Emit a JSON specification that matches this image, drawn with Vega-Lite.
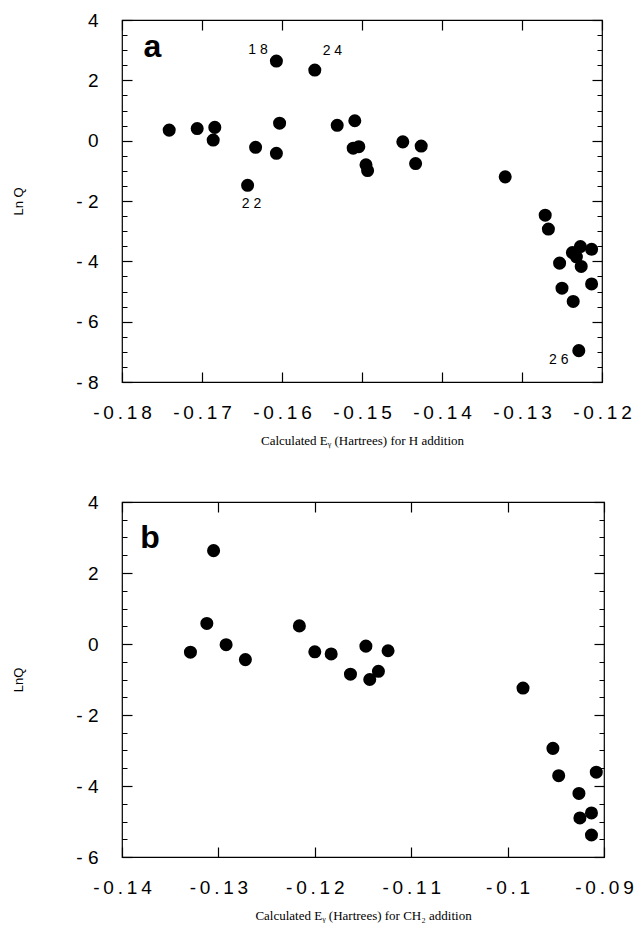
{
  "$schema": "https://vega.github.io/schema/vega-lite/v6.json",
  "background": "white",
  "padding": {"left": 12, "top": 10, "right": 0, "bottom": 0},
  "spacing": 44,
  "config": {
    "view": {"stroke": "black", "strokeWidth": 1.2},
    "axis": {"domain": false, "grid": false, "zindex": 1, "ticks": true, "offset": -10, "tickSize": 10, "labelFont": "Liberation Sans", "labelFontSize": 19, "labelColor": "black", "tickColor": "black", "tickWidth": 1.2, "titleColor": "black", "labelOverlap": false, "labelFlush": false, "labelBound": false}
  },
  "datasets": {
    "pa": [
      {"E": -0.1741, "lnQ": 0.35}, {"E": -0.1706, "lnQ": 0.40}, {"E": -0.1684, "lnQ": 0.44}, {"E": -0.1686, "lnQ": 0.02},
      {"E": -0.1633, "lnQ": -0.22}, {"E": -0.1607, "lnQ": -0.42}, {"E": -0.1603, "lnQ": 0.58}, {"E": -0.1607, "lnQ": 2.64},
      {"E": -0.1643, "lnQ": -1.48}, {"E": -0.1559, "lnQ": 2.34}, {"E": -0.1531, "lnQ": 0.51}, {"E": -0.1509, "lnQ": 0.66},
      {"E": -0.1511, "lnQ": -0.25}, {"E": -0.1504, "lnQ": -0.20}, {"E": -0.1495, "lnQ": -0.80}, {"E": -0.1493, "lnQ": -0.99},
      {"E": -0.1449, "lnQ": -0.04}, {"E": -0.1426, "lnQ": -0.18}, {"E": -0.1433, "lnQ": -0.76}, {"E": -0.1321, "lnQ": -1.20},
      {"E": -0.1271, "lnQ": -2.47}, {"E": -0.1267, "lnQ": -2.93}, {"E": -0.1227, "lnQ": -3.51}, {"E": -0.1237, "lnQ": -3.71},
      {"E": -0.1213, "lnQ": -3.60}, {"E": -0.1232, "lnQ": -3.85}, {"E": -0.1226, "lnQ": -4.17}, {"E": -0.1253, "lnQ": -4.06},
      {"E": -0.1250, "lnQ": -4.89}, {"E": -0.1213, "lnQ": -4.75}, {"E": -0.1236, "lnQ": -5.33}, {"E": -0.1229, "lnQ": -6.96}
    ],
    "la": [
      {"E": -0.1630, "lnQ": 3.0, "label": "1 8"},
      {"E": -0.1537, "lnQ": 2.97, "label": "2 4"},
      {"E": -0.1638, "lnQ": -2.10, "label": "2 2"},
      {"E": -0.1254, "lnQ": -7.28, "label": "2 6"}
    ],
    "ta": [{"E": -0.1773, "lnQ": 2.77, "label": "a"}],
    "pb": [
      {"E": -0.1329, "lnQ": -0.23}, {"E": -0.1312, "lnQ": 0.58}, {"E": -0.1305, "lnQ": 2.63}, {"E": -0.1292, "lnQ": -0.02},
      {"E": -0.1272, "lnQ": -0.44}, {"E": -0.1216, "lnQ": 0.51}, {"E": -0.1200, "lnQ": -0.22}, {"E": -0.1183, "lnQ": -0.28},
      {"E": -0.1147, "lnQ": -0.06}, {"E": -0.1124, "lnQ": -0.19}, {"E": -0.1163, "lnQ": -0.85}, {"E": -0.1134, "lnQ": -0.77},
      {"E": -0.1143, "lnQ": -1.00}, {"E": -0.0984, "lnQ": -1.24}, {"E": -0.0953, "lnQ": -2.94}, {"E": -0.0947, "lnQ": -3.71},
      {"E": -0.0908, "lnQ": -3.61}, {"E": -0.0926, "lnQ": -4.21}, {"E": -0.0925, "lnQ": -4.90}, {"E": -0.0913, "lnQ": -4.76},
      {"E": -0.0913, "lnQ": -5.38}
    ],
    "tb": [{"E": -0.1381, "lnQ": 2.70, "label": "b"}]
  },
  "vconcat": [
    {
      "width": 480,
      "height": 362,
      "resolve": {"axis": {"x": "independent", "y": "independent"}},
      "layer": [
        {
          "data": {"name": "pa"},
          "mark": {"type": "circle", "size": 170, "color": "black", "opacity": 1},
          "encoding": {
            "x": {"field": "E", "type": "quantitative", "scale": {"domain": [-0.18, -0.12], "nice": false, "zero": false},
              "axis": {"orient": "bottom", "values": [-0.18, -0.17, -0.16, -0.15, -0.14, -0.13, -0.12], "labelPadding": 21,
                "labelExpr": "join(split((datum.value < 0 ? '-' : '') + format(abs(datum.value), '.2~f'), ''), '\u2009')",
                "title": "Calculated E\u1d67 (Hartrees) for H addition", "titleFont": "Liberation Serif", "titleFontSize": 13, "titleFontWeight": "normal", "titlePadding": 12}},
            "y": {"field": "lnQ", "type": "quantitative", "scale": {"domain": [-8, 4], "nice": false, "zero": false},
              "axis": {"orient": "left", "values": [-8, -7.5, -7, -6.5, -6, -5.5, -5, -4.5, -4, -3.5, -3, -2.5, -2, -1.5, -1, -0.5, 0, 0.5, 1, 1.5, 2, 2.5, 3, 3.5, 4],
                "tickDash": {"condition": {"test": "abs(datum.value % 2) < 0.01", "value": [10, 0]}, "value": [0, 5, 5, 0]}, "labelPadding": 24,
                "labelExpr": "abs(datum.value % 2) < 0.01 ? (datum.value < 0 ? '- ' + abs(datum.value) : '' + datum.value) : ''",
                "title": "Ln Q", "titleFont": "Liberation Sans", "titleFontSize": 13, "titleFontWeight": "normal", "titlePadding": 50}}
          }
        },
        {
          "data": {"name": "la"},
          "mark": {"type": "text", "font": "Liberation Sans", "fontSize": 14, "color": "black"},
          "encoding": {
            "x": {"field": "E", "type": "quantitative", "axis": {"orient": "top", "values": [-0.18, -0.17, -0.16, -0.15, -0.14, -0.13, -0.12], "labels": false, "title": null}},
            "y": {"field": "lnQ", "type": "quantitative", "axis": {"orient": "right", "values": [-8, -7.5, -7, -6.5, -6, -5.5, -5, -4.5, -4, -3.5, -3, -2.5, -2, -1.5, -1, -0.5, 0, 0.5, 1, 1.5, 2, 2.5, 3, 3.5, 4],
              "tickDash": {"condition": {"test": "abs(datum.value % 2) < 0.01", "value": [10, 0]}, "value": [0, 5, 5, 0]}, "labels": false, "title": null}},
            "text": {"field": "label"}
          }
        },
        {
          "data": {"name": "ta"},
          "mark": {"type": "text", "font": "Liberation Sans", "fontSize": 32, "fontWeight": "bold", "color": "black", "align": "left", "baseline": "alphabetic"},
          "encoding": {
            "x": {"field": "E", "type": "quantitative", "axis": null},
            "y": {"field": "lnQ", "type": "quantitative", "axis": null},
            "text": {"field": "label"}
          }
        }
      ]
    },
    {
      "width": 482,
      "height": 355,
      "resolve": {"axis": {"x": "independent", "y": "independent"}},
      "layer": [
        {
          "data": {"name": "pb"},
          "mark": {"type": "circle", "size": 170, "color": "black", "opacity": 1},
          "encoding": {
            "x": {"field": "E", "type": "quantitative", "scale": {"domain": [-0.14, -0.09], "nice": false, "zero": false},
              "axis": {"orient": "bottom", "values": [-0.14, -0.13, -0.12, -0.11, -0.1, -0.09], "labelPadding": 21,
                "labelExpr": "join(split((datum.value < 0 ? '-' : '') + format(abs(datum.value), '.2~f'), ''), '\u2009')",
                "title": "Calculated E\u1d67 (Hartrees) for CH\u2082 addition", "titleFont": "Liberation Serif", "titleFontSize": 13, "titleFontWeight": "normal", "titlePadding": 12}},
            "y": {"field": "lnQ", "type": "quantitative", "scale": {"domain": [-6, 4], "nice": false, "zero": false},
              "axis": {"orient": "left", "values": [-6, -5.5, -5, -4.5, -4, -3.5, -3, -2.5, -2, -1.5, -1, -0.5, 0, 0.5, 1, 1.5, 2, 2.5, 3, 3.5, 4],
                "tickDash": {"condition": {"test": "abs(datum.value % 2) < 0.01", "value": [10, 0]}, "value": [0, 5, 5, 0]}, "labelPadding": 24,
                "labelExpr": "abs(datum.value % 2) < 0.01 ? (datum.value < 0 ? '- ' + abs(datum.value) : '' + datum.value) : ''",
                "title": "LnQ", "titleFont": "Liberation Sans", "titleFontSize": 13, "titleFontWeight": "normal", "titlePadding": 50}}
          }
        },
        {
          "data": {"name": "tb"},
          "mark": {"type": "text", "font": "Liberation Sans", "fontSize": 32, "fontWeight": "bold", "color": "black", "align": "left", "baseline": "alphabetic"},
          "encoding": {
            "x": {"field": "E", "type": "quantitative", "axis": {"orient": "top", "values": [-0.14, -0.13, -0.12, -0.11, -0.1, -0.09], "labels": false, "title": null}},
            "y": {"field": "lnQ", "type": "quantitative", "axis": {"orient": "right", "values": [-6, -5.5, -5, -4.5, -4, -3.5, -3, -2.5, -2, -1.5, -1, -0.5, 0, 0.5, 1, 1.5, 2, 2.5, 3, 3.5, 4],
              "tickDash": {"condition": {"test": "abs(datum.value % 2) < 0.01", "value": [10, 0]}, "value": [0, 5, 5, 0]}, "labels": false, "title": null}},
            "text": {"field": "label"}
          }
        }
      ]
    }
  ]
}
